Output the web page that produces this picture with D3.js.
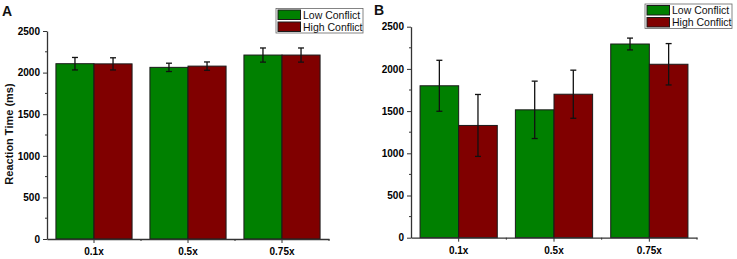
<!DOCTYPE html>
<html>
<head>
<meta charset="utf-8">
<script src="https://cdn.jsdelivr.net/npm/d3@7"></script>
<style>
  body { margin: 0; background: #fff; }
  text { font-family: Arial, "Liberation Sans", sans-serif; }
</style>
</head>
<body>
<div id="container"></div>
<script>
let w = 737;
let h = 259;

// data
let categories = ["0.1x", "0.5x", "0.75x"];
let seriesNames = ["Low Conflict", "High Conflict"];
let seriesColors = ["#008000", "#800000"];
let yTicks = [0, 500, 1000, 1500, 2000, 2500];

let lowA = [2107, 2063, 2211];
let lowErrA = [75, 50, 85];
let highA = [2105, 2078, 2211];
let highErrA = [73, 50, 85];

let lowB = [1800, 1515, 2295];
let lowErrB = [302, 340, 70];
let highB = [1330, 1700, 2055];
let highErrB = [367, 285, 245];

let viz = d3.select("#container")
  .append("svg")
    .attr("width", w)
    .attr("height", h)
    .style("background-color", "white")
;

function drawPanel(opts) {
  let g = viz.append("g").attr("class", "panel");

  let xScale = d3.scaleBand()
    .domain(categories)
    .range([opts.left, opts.right])
    .paddingInner(0.19)
    .paddingOuter(0.095);
  let xSub = d3.scaleBand().domain(seriesNames).range([0, xScale.bandwidth()]);
  let yScale = d3.scaleLinear().domain([0, 2500]).range([opts.bottom, opts.top]);

  // rows: one per bar
  let rows = [];
  categories.forEach(function(c, i) {
    rows.push({cat: c, s: seriesNames[0], v: opts.low[i], e: opts.lowErr[i], color: seriesColors[0]});
    rows.push({cat: c, s: seriesNames[1], v: opts.high[i], e: opts.highErr[i], color: seriesColors[1]});
  });

  g.selectAll(".bar").data(rows).enter()
    .append("rect")
      .attr("class", "bar")
      .attr("x", d => xScale(d.cat) + xSub(d.s))
      .attr("y", d => yScale(d.v))
      .attr("width", xSub.bandwidth())
      .attr("height", d => yScale(0) - yScale(d.v))
      .attr("fill", d => d.color)
      .attr("stroke", "#1a1a1a")
      .attr("stroke-width", 1)
  ;

  // error bars
  let errGroups = g.selectAll(".err").data(rows).enter()
    .append("g")
      .attr("class", "err")
      .attr("transform", d => "translate(" + (xScale(d.cat) + xSub(d.s) + xSub.bandwidth() / 2) + ",0)")
  ;
  errGroups.append("line")
    .attr("y1", d => yScale(d.v + d.e))
    .attr("y2", d => yScale(d.v - d.e))
    .attr("stroke", "#111").attr("stroke-width", 1.3);
  errGroups.append("line")
    .attr("x1", -3).attr("x2", 3)
    .attr("y1", d => yScale(d.v + d.e)).attr("y2", d => yScale(d.v + d.e))
    .attr("stroke", "#111").attr("stroke-width", 1.3);
  errGroups.append("line")
    .attr("x1", -3).attr("x2", 3)
    .attr("y1", d => yScale(d.v - d.e)).attr("y2", d => yScale(d.v - d.e))
    .attr("stroke", "#111").attr("stroke-width", 1.3);

  // y axis
  let yAxisGroup = g.append("g").attr("class", "yaxis")
    .attr("transform", "translate(" + opts.left + ",0)");
  yAxisGroup.call(d3.axisLeft(yScale).tickValues(yTicks).tickFormat(d3.format("d"))
    .tickSize(4).tickPadding(3).tickSizeOuter(0));
  let yMinor = yTicks.slice(0, -1).map(t => t + 250);
  yAxisGroup.selectAll(".minor").data(yMinor).enter()
    .append("line").attr("class", "minor")
      .attr("x1", -2).attr("x2", 0)
      .attr("y1", d => yScale(d)).attr("y2", d => yScale(d))
      .attr("stroke", "#333");

  // x axis
  let xAxisGroup = g.append("g").attr("class", "xaxis")
    .attr("transform", "translate(0," + opts.bottom + ")");
  xAxisGroup.call(d3.axisBottom(xScale).tickSize(4).tickPadding(5).tickSizeOuter(0));
  let step = xScale.step();
  let xMinor = [1, 2, 3].map(i => opts.left + i * step);
  xAxisGroup.selectAll(".minor").data(xMinor).enter()
    .append("line").attr("class", "minor")
      .attr("x1", d => d).attr("x2", d => d)
      .attr("y1", 0).attr("y2", 2)
      .attr("stroke", "#333");

  g.selectAll(".domain").attr("stroke", "#333").attr("stroke-width", 1.3);
  g.selectAll(".tick line").attr("stroke", "#333");
  g.selectAll(".tick text")
    .style("font-size", "10px")
    .style("font-weight", "bold")
    .style("font-family", "Arial, 'Liberation Sans', sans-serif")
    .attr("fill", "#000");

  // panel label
  g.append("text")
    .attr("x", opts.labelX).attr("y", opts.labelY)
    .style("font-size", "14px").style("font-weight", "bold")
    .attr("fill", "#111")
    .text(opts.label);

  // legend
  let lg = g.append("g").attr("class", "legend")
    .attr("transform", "translate(" + opts.legendX + "," + opts.legendY + ")");
  lg.append("rect")
    .attr("x", 0).attr("y", 0).attr("width", 87).attr("height", 24.5)
    .attr("fill", "white").attr("stroke", "#666").attr("stroke-width", 0.8);
  let items = lg.selectAll(".item").data(seriesNames).enter()
    .append("g").attr("class", "item")
      .attr("transform", (d, i) => "translate(0," + (i * 12) + ")");
  items.append("rect")
    .attr("x", 2).attr("y", 1.5).attr("width", 22.5).attr("height", 9.5)
    .attr("fill", (d, i) => seriesColors[i])
    .attr("stroke", "#1a1a1a").attr("stroke-width", 1);
  items.append("text")
    .attr("x", 27).attr("y", 10)
    .style("font-size", "10.5px")
    .attr("fill", "#111")
    .text(d => d);

  return g;
}

let panelA = drawPanel({
  left: 47, right: 329, top: 31, bottom: 239,
  low: lowA, lowErr: lowErrA, high: highA, highErr: highErrA,
  label: "A", labelX: 2, labelY: 16,
  legendX: 276, legendY: 8.5
});

panelA.append("text")
  .attr("transform", "translate(13,134) rotate(-90)")
  .attr("text-anchor", "middle")
  .style("font-size", "11px").style("font-weight", "bold")
  .attr("fill", "#111")
  .text("Reaction Time (ms)");

drawPanel({
  left: 411, right: 697, top: 26.7, bottom: 237.7,
  low: lowB, lowErr: lowErrB, high: highB, highErr: highErrB,
  label: "B", labelX: 374, labelY: 15,
  legendX: 645, legendY: 4
});
</script>
</body>
</html>
